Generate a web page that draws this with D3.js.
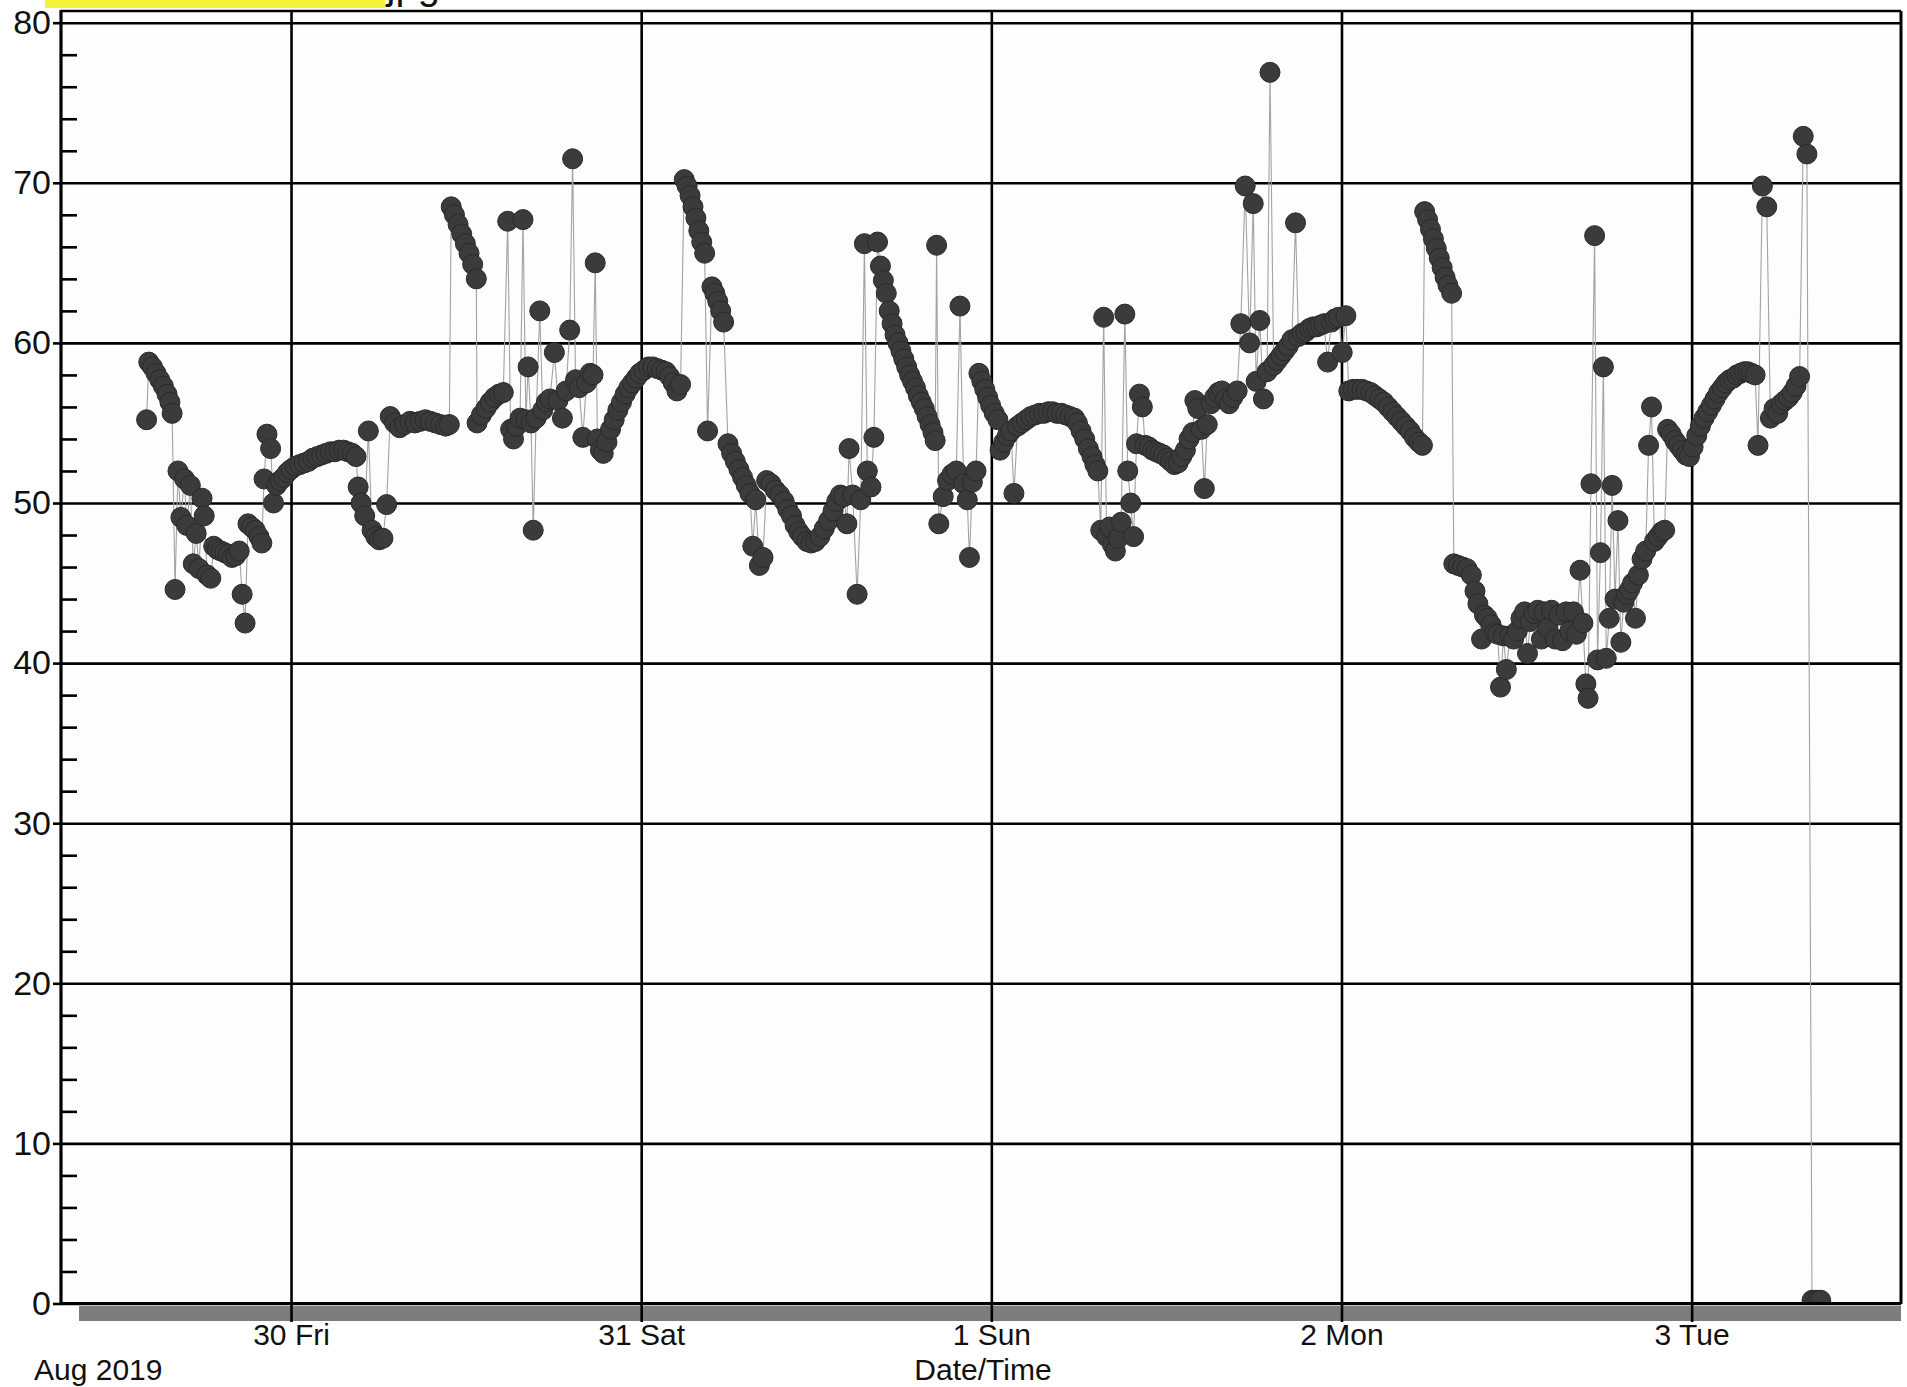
<!DOCTYPE html>
<html>
<head>
<meta charset="utf-8">
<script src="https://cdn.jsdelivr.net/npm/d3@7"></script>
<style>
  html, body { margin: 0; padding: 0; background: #ffffff; }
  svg { display: block; }
  text { font-family: "Liberation Sans", Arial, Helvetica, sans-serif; fill: #111; }
</style>
</head>
<body>
<div id="chart"></div>
<script>
// ---------------- DATA ----------------
// Reading times, in hours after 30 Aug 2019 00:00
const hours = [
  -9.90,-9.75,-9.50,-9.25,-9.00,-8.75,-8.50,-8.30,-8.15,-7.95,-7.75,-7.55,-7.30,-7.15,-6.90,-6.70,-6.50,-6.30,-6.10,-5.95,
  -5.75,-5.50,-5.30,-5.05,-4.80,-4.55,-4.30,-4.05,-3.80,-3.55,-3.35,-3.15,-2.95,-2.70,-2.45,-2.20,-2.00,-1.85,-1.65,-1.40,
  -1.20,-1.00,-0.75,-0.50,-0.25,0.00,0.30,0.60,0.90,1.20,1.50,1.80,2.10,2.40,2.70,3.00,3.30,3.60,3.90,4.20,
  4.45,4.60,4.80,5.05,5.30,5.55,5.80,6.05,6.30,6.55,6.80,7.10,7.45,7.80,8.15,8.50,8.85,9.20,9.55,9.90,
  10.25,10.60,10.85,10.98,11.20,11.45,11.70,11.95,12.20,12.45,12.70,12.75,13.05,13.35,13.65,13.95,14.25,14.55,14.85,15.05,
  15.25,15.45,15.70,15.90,16.10,16.25,16.45,16.60,16.80,17.05,17.25,17.50,17.75,18.05,18.30,18.60,18.85,19.10,19.30,19.50,
  19.75,20.00,20.25,20.50,20.70,20.85,21.00,21.20,21.40,21.65,21.90,22.15,22.40,22.65,22.90,23.15,23.40,23.65,23.90,24.20,
  24.50,24.80,25.10,25.40,25.70,25.95,26.20,26.45,26.70,26.95,27.15,27.35,27.55,27.75,27.95,28.15,28.35,28.55,28.85,29.05,
  29.25,29.45,29.65,29.95,30.20,30.45,30.70,30.95,31.20,31.45,31.65,31.85,32.10,32.35,32.60,32.90,33.20,33.50,33.80,34.05,
  34.30,34.55,34.80,35.05,35.35,35.65,35.95,36.25,36.55,36.85,37.15,37.40,37.65,37.90,38.10,38.25,38.50,38.80,39.05,39.30,
  39.50,39.75,39.95,40.20,40.40,40.60,40.80,41.00,41.20,41.40,41.60,41.80,42.00,42.20,42.40,42.60,42.80,43.00,43.20,43.40,
  43.60,43.80,44.00,44.15,44.25,44.40,44.70,45.00,45.30,45.60,45.85,46.10,46.35,46.50,46.70,46.95,47.15,47.35,47.55,47.75,
  47.95,48.20,48.45,48.60,48.85,49.10,49.35,49.55,49.80,50.10,50.40,50.70,51.00,51.30,51.60,51.90,52.20,52.50,52.80,53.10,
  53.40,53.70,53.90,54.15,54.40,54.65,54.90,55.10,55.30,55.50,55.70,55.90,56.10,56.30,56.50,56.70,56.90,57.15,57.35,57.55,
  57.75,57.95,58.15,58.35,58.55,58.80,59.05,59.30,59.55,59.80,60.05,60.30,60.55,60.80,61.05,61.30,61.55,61.80,61.95,62.15,
  62.40,62.60,62.80,63.05,63.30,63.55,63.80,64.05,64.30,64.55,64.85,65.10,65.40,65.70,65.95,66.15,66.40,66.65,66.90,67.10,
  67.35,67.60,67.85,68.10,68.35,68.60,68.85,69.05,69.30,69.55,69.80,70.05,70.30,70.55,70.80,71.05,71.30,71.55,71.80,72.05,
  72.30,72.50,72.80,73.10,73.40,73.70,74.00,74.30,74.60,74.90,75.20,75.50,75.80,76.10,76.40,76.70,77.00,77.30,77.55,77.70,
  77.90,78.10,78.30,78.50,78.70,78.90,79.10,79.30,79.55,79.70,80.00,80.30,80.60,80.90,81.15,81.35,81.60,81.80,82.00,82.25,
  82.50,82.70,82.90,83.10,83.30,83.55,83.80,84.05,84.30,84.55,84.75,84.95,85.20,85.45,85.70,85.90,86.15,86.40,86.65,86.90,
  87.15,87.40,87.65,87.90,88.10,88.35,88.55,88.75,88.90,89.10,89.35,89.55,89.75,89.95,90.15,90.35,90.55,90.75,90.95,91.15,
  91.35,91.55,91.75,91.95,92.15,92.35,92.60,92.85,93.05,93.25,93.45,93.70,93.95,94.15,94.35,94.60,94.85,95.10,95.35,95.60,
  95.85,96.10,96.35,96.60,96.85,97.10,97.35,97.60,97.85,98.10,98.35,98.60,98.85,99.10,99.35,99.60,99.85,100.10,100.35,100.55,
  100.85,101.15,101.40,101.65,101.90,102.15,102.40,102.65,102.90,103.15,103.40,103.65,103.90,104.25,104.45,104.65,104.85
];
// Readings
const values = [
  55.2,58.8,58.5,58.1,57.7,57.3,56.8,56.3,55.6,44.6,52.0,49.1,51.5,48.6,51.1,46.2,48.1,45.9,50.3,49.2,
  45.5,45.3,47.3,47.1,47.0,46.9,46.8,46.6,46.7,47.0,44.3,42.5,48.7,48.5,48.3,47.9,47.5,51.5,54.3,53.4,
  50.0,51.1,51.4,51.6,51.9,52.1,52.3,52.4,52.5,52.6,52.8,52.9,53.0,53.1,53.2,53.2,53.3,53.3,53.2,53.1,
  52.9,51.0,50.0,49.2,54.5,48.3,47.9,47.7,47.8,49.9,55.4,55.0,54.7,54.9,55.1,55.0,55.1,55.2,55.1,55.0,
  54.9,54.8,54.9,68.5,68.0,67.4,66.8,66.2,65.6,64.9,64.0,55.0,55.5,55.9,56.3,56.6,56.8,56.9,67.6,54.6,
  54.0,54.8,55.3,67.7,55.2,58.5,55.0,48.3,55.3,62.0,55.8,56.3,56.5,59.4,56.4,55.3,57.0,60.8,71.5,57.7,
  57.2,54.1,57.5,58.1,58.0,65.0,54.0,53.3,53.1,53.8,54.6,55.2,55.8,56.3,56.8,57.2,57.5,57.8,58.1,58.3,
  58.5,58.5,58.4,58.3,58.2,57.9,57.5,57.0,57.4,70.2,69.8,69.2,68.5,67.8,67.0,66.3,65.6,54.5,63.5,63.1,
  62.6,62.0,61.3,53.7,53.1,52.6,52.1,51.6,51.1,50.6,47.3,50.2,46.1,46.6,51.4,51.2,50.8,50.5,50.1,49.6,
  49.2,48.6,48.2,47.9,47.6,47.5,47.6,47.9,48.4,48.9,49.5,50.1,50.5,50.4,48.7,53.4,50.5,44.3,50.2,66.2,
  52.0,51.0,54.1,66.3,64.8,63.9,63.1,62.0,61.2,60.5,60.0,59.5,59.0,58.5,58.0,57.6,57.2,56.7,56.3,55.9,
  55.4,54.9,54.4,53.9,66.1,48.7,50.4,51.4,51.8,52.0,62.3,51.2,50.2,46.6,51.3,52.0,58.1,57.6,57.1,56.6,
  56.1,55.6,55.2,53.3,53.8,54.2,54.5,50.6,54.8,55.0,55.2,55.4,55.5,55.6,55.6,55.7,55.7,55.6,55.6,55.5,
  55.4,55.3,55.0,54.5,54.0,53.4,52.9,52.4,52.0,48.3,61.6,47.9,48.5,47.4,47.0,47.8,48.8,61.8,52.0,50.0,
  47.9,53.7,56.8,56.0,53.6,53.5,53.3,53.2,53.1,53.0,52.8,52.6,52.4,52.5,52.9,53.3,54.0,54.4,56.4,55.9,
  54.6,50.9,54.9,56.2,56.6,56.9,57.0,56.5,56.2,56.6,57.0,61.2,69.8,60.0,68.7,57.6,61.4,56.5,58.2,76.9,
  58.6,58.9,59.2,59.5,59.8,60.2,67.5,60.4,60.6,60.7,60.9,61.0,61.0,61.1,61.2,58.8,61.3,61.5,61.6,59.4,
  61.7,57.0,57.1,57.1,57.1,57.0,56.9,56.7,56.5,56.3,56.0,55.7,55.4,55.1,54.8,54.5,54.1,53.8,53.6,68.2,
  67.7,67.1,66.5,65.9,65.3,64.7,64.1,63.6,63.1,46.2,46.1,46.0,45.9,45.5,44.5,43.7,41.5,43.0,42.8,42.4,
  41.9,41.8,38.5,41.7,39.6,41.7,41.5,42.0,42.8,43.2,40.6,42.6,43.1,43.3,41.5,43.2,42.2,43.3,41.5,43.0,
  41.4,43.2,42.0,43.2,41.8,45.8,42.5,38.7,37.8,51.2,66.7,40.2,46.9,58.5,40.3,42.8,51.1,44.0,48.9,41.3,
  43.8,44.3,44.6,45.0,42.8,45.5,46.5,47.0,53.6,56.0,47.6,47.9,48.2,48.3,54.6,54.3,53.9,53.6,53.3,53.0,
  52.9,53.5,54.2,54.8,55.3,55.7,56.1,56.5,56.9,57.2,57.5,57.7,57.8,58.0,58.1,58.2,58.2,58.1,58.0,53.6,
  69.8,68.5,55.3,55.9,55.6,56.2,56.4,56.6,56.9,57.3,57.9,72.9,71.8,0.2,0.2,0.2,0.2
];
const yMajorTicks = [0, 10, 20, 30, 40, 50, 60, 70, 80];
const yMinorTicks = [2,4,6,8,12,14,16,18,22,24,26,28,32,34,36,38,42,44,46,48,52,54,56,58,62,64,66,68,72,74,76,78];
const dayTicks = ["2019-08-30", "2019-08-31", "2019-09-01", "2019-09-02", "2019-09-03"];
const monthLabel = "Aug 2019";
const xAxisTitle = "Date/Time";
const titleText = "RH Chart 1107.jpg";

// ---------------- LAYOUT ----------------
const W = 1907, H = 1387;
const L = 61, R = 1901, T = 11, B = 1304;
const base = new Date(2019, 7, 30, 0, 0);
const parseDay = d3.timeParse("%Y-%m-%d");

const x = d3.scaleTime()
  .domain([new Date(2019, 7, 29, 8, 14), new Date(2019, 8, 3, 14, 21)])
  .range([L, R]);
const y = d3.scaleLinear().domain([0, 80]).range([1303.5, 22.7]);

const data = hours.map((h, i) => ({ t: new Date(base.getTime() + h * 3600e3), v: values[i] }));

const svg = d3.select("#chart").append("svg")
  .attr("width", W).attr("height", H)
  .attr("viewBox", `0 0 ${W} ${H}`);

svg.append("rect").attr("width", W).attr("height", H).attr("fill", "#ffffff");

// Title fragment (cut off at the top edge, as in the scan)
svg.append("rect").attr("x", 45).attr("y", 0).attr("width", 340).attr("height", 8)
  .attr("fill", "#f4f23a");
svg.append("text").attr("x", 440).attr("y", -1)
  .attr("text-anchor", "end").attr("font-size", 40).text(titleText);

// Plot background
svg.append("rect").attr("x", L).attr("y", T).attr("width", R - L).attr("height", B - T)
  .attr("fill", "#fdfdfd");

// Gray time band under the x axis
svg.append("rect").attr("x", 79).attr("y", 1306).attr("width", R - 79).attr("height", 15)
  .attr("fill", "#7d7d7d");

// Horizontal gridlines
const yGrid = svg.append("g").attr("transform", `translate(${L},0)`)
  .call(d3.axisLeft(y).tickValues(yMajorTicks).tickSize(-(R - L)).tickFormat(""));
yGrid.select(".domain").remove();
yGrid.selectAll("line").attr("stroke", "#000").attr("stroke-width", 2.6);

// Vertical day gridlines (extend through the band)
const xGrid = svg.append("g").attr("transform", `translate(0,1322)`)
  .call(d3.axisBottom(x).tickValues(dayTicks.map(parseDay))
    .tickSize(-(1322 - T)).tickPadding(2).tickFormat(d3.timeFormat("%-d %a")));
xGrid.select(".domain").remove();
xGrid.selectAll("line").attr("stroke", "#000").attr("stroke-width", 2.6);
xGrid.selectAll("text").attr("font-size", 30).attr("fill", "#111")
  .style("font-family", '"Liberation Sans", Arial, sans-serif');

// Series line + points (clipped to plot area)
svg.append("clipPath").attr("id", "plotclip")
  .append("rect").attr("x", L).attr("y", T).attr("width", R - L).attr("height", B - T);
const plot = svg.append("g").attr("clip-path", "url(#plotclip)");

plot.append("path").datum(data)
  .attr("fill", "none").attr("stroke", "#a3a3a3").attr("stroke-width", 1.1)
  .attr("d", d3.line().x(d => x(d.t)).y(d => y(d.v)));

plot.selectAll("circle").data(data).join("circle")
  .attr("cx", d => x(d.t)).attr("cy", d => y(d.v)).attr("r", 10)
  .attr("fill", "#3b3b3b").attr("stroke", "#2a2a2a").attr("stroke-width", 1);

// Frame
svg.append("line").attr("x1", L).attr("x2", R).attr("y1", T).attr("y2", T)
  .attr("stroke", "#000").attr("stroke-width", 2.6);
svg.append("line").attr("x1", R).attr("x2", R).attr("y1", T).attr("y2", B)
  .attr("stroke", "#000").attr("stroke-width", 3);
svg.append("line").attr("x1", L).attr("x2", R).attr("y1", y(0)).attr("y2", y(0))
  .attr("stroke", "#000").attr("stroke-width", 3);

// Y axis: major ticks outward with labels, minor ticks inward
const yAxis = svg.append("g").attr("transform", `translate(${L},0)`)
  .call(d3.axisLeft(y).tickValues(yMajorTicks).tickSize(8).tickPadding(2));
yAxis.select(".domain").remove();
yAxis.selectAll("line").attr("stroke", "#000").attr("stroke-width", 2.6);
yAxis.selectAll("text").attr("font-size", 34).attr("fill", "#111")
  .style("font-family", '"Liberation Sans", Arial, sans-serif');

const yMinor = svg.append("g").attr("transform", `translate(${L},0)`)
  .call(d3.axisRight(y).tickValues(yMinorTicks).tickSize(16).tickFormat(""));
yMinor.select(".domain").remove();
yMinor.selectAll("line").attr("stroke", "#000").attr("stroke-width", 2.6);

svg.append("line").attr("x1", L).attr("x2", L).attr("y1", T - 1).attr("y2", B + 1)
  .attr("stroke", "#000").attr("stroke-width", 3.2);

// Axis captions
svg.append("text").attr("x", 34).attr("y", 1380).attr("font-size", 30).text(monthLabel);
svg.append("text").attr("x", 983).attr("y", 1380).attr("font-size", 30)
  .attr("text-anchor", "middle").text(xAxisTitle);
</script>
</body>
</html>
